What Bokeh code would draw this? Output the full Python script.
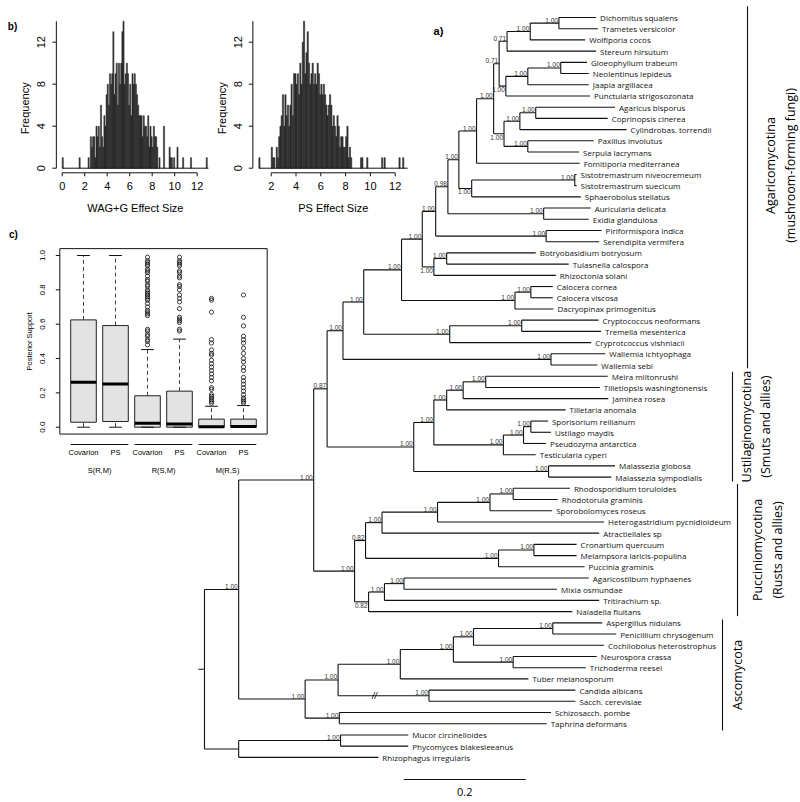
import math
from bokeh.plotting import figure
from bokeh.models import Range1d
from bokeh.core.properties import value
from bokeh.embed import file_html
from bokeh.resources import INLINE

# ======================= DATA =======================
# --- phylogeny (Newick pieces, branch lengths in substitutions/site, node labels = posterior support)
NWK_DTW = "((Dichomitus_squalens:0.061,Trametes_versicolor:0.064)1.00:0.047,Wolfiporia_cocos:0.090)1.00:0.038"
NWK_POLY = "(" + NWK_DTW + ",Stereum_hirsutum:0.146)0.71:0.013"
NWK_GLOEO = ("(((Gloeophyllum_trabeum:0.043,Neolentinus_lepideus:0.046)1.00:0.054,Jaapia_argillacea:0.100)1.00:0.036,"
             "Punctularia_strigosozonata:0.138)1.00:0.011")
NWK_AGARICALES = ("(((Agaricus_bisporus:0.130,Coprinopsis_cinerea:0.118)1.00:0.026,Cylindrobas._torrendii:0.175)1.00:0.026,"
                  "(Paxillus_involutus:0.108,Serpula_lacrymans:0.084)1.00:0.039)1.00:0.017")
NWK_CORE = "((" + NWK_POLY + "," + NWK_GLOEO + ")0.71:0.009," + NWK_AGARICALES + ")1.00:0.028"
NWK_HYMENO = "(" + NWK_CORE + ",Fomitiporia_mediterranea:0.169)1.00:0.029"
NWK_CANTH = ("((Sistotremastrum_niveocremeum:0.003,Sistotremastrum_suecicum:0.003)1.00:0.169,"
             "Sphaerobolus_stellatus:0.179)1.00:0.021")
NWK_K = "(" + NWK_HYMENO + "," + NWK_CANTH + ")1.00:0.018"
NWK_L = "(" + NWK_K + ",(Auricularia_delicata:0.077,Exidia_glandulosa:0.074)1.00:0.157)0.98:0.020"
NWK_M = "(" + NWK_L + ",(Piriformispora_indica:0.091,Serendipita_vermifera:0.087)1.00:0.181)1.00:0.022"
NWK_N = ("(" + NWK_M + ",((Botryobasidium_botryosum:0.146,Tulasnella_calospora:0.200)1.00:0.021,"
         "Rhizoctonia_solani:0.200)1.00:0.019)1.00:0.034")
NWK_O = ("(" + NWK_N + ",((Calocera_cornea:0.036,Calocera_viscosa:0.036)1.00:0.026,"
         "Dacryopinax_primogenitus:0.063)1.00:0.186)1.00:0.062")
NWK_P = ("(" + NWK_O + ",((Cryptococcus_neoformans:0.126,Tremella_mesenterica:0.130)1.00:0.118,"
         "Cryprotcoccus_vishniacii:0.232)1.00:0.141)1.00:0.034")
NWK_AGARICO = "(" + NWK_P + ",(Wallemia_ichtyophaga:0.089,Wallemia_sebi:0.076)1.00:0.341)1.00:0.026"
NWK_USTILAGO = ("(((((Meira_miltonrushi:0.200,Tilletiopsis_washingtonensis:0.187)1.00:0.037,Jaminea_rosea:0.238)1.00:0.027,"
                "Tilletaria_anomala:0.195)1.00:0.021,(((Sporisorium_reilianum:0.028,Ustilago_maydis:0.033)1.00:0.012,"
                "Pseudozyma_antarctica:0.037)1.00:0.033,Testicularia_cyperi:0.053)1.00:0.114)1.00:0.033,"
                "(Malassezia_globosa:0.109,Malassezia_sympodialis:0.103)1.00:0.221)1.00:0.142")
NWK_PUCCINIO = ("((((((Rhodosporidium_toruloides:0.093,Rhodotorula_graminis:0.073)1.00:0.038,Sporobolomyces_roseus:0.102)1.00:0.086,"
                "Heterogastridium_pycnidioideum:0.273)1.00:0.091,Atractiellales_sp:0.356)1.00:0.027,"
                "((Cronartium_quercuum:0.070,Melampsora_laricis-populina:0.070)1.00:0.058,Puccinia_graminis:0.141)1.00:0.218)0.82:0.018,"
                "(((Agaricostilbum_hyphaenes:0.303,Mixia_osmundae:0.251)1.00:0.032,Tritirachium_sp.:0.352)1.00:0.026,"
                "Naiadella_fluitans:0.334)0.82:0.023)1.00:0.067")
NWK_ASCO = ("((((((Aspergillus_nidulans:0.081,Penicillium_chrysogenum:0.104)1.00:0.130,Cochliobolus_heterostrophus:0.214)1.00:0.033,"
            "(Neurospora_crassa:0.137,Trichoderma_reesei:0.119)1.00:0.098)1.00:0.087,Tuber_melanosporum:0.210)1.00:0.102,"
            "(Candida_albicans:0.240,Sacch._cerevisiae:0.240)1.00:0.149)1.00:0.054,"
            "(Schizosacch._pombe:0.347,Taphrina_deformans:0.340)1.00:0.056)1.00:0.109")
NWK_OUTGROUP = ("((Mucor_circinelloides:0.111,Phycomyces_blakesleeanus:0.111)1.00:0.167,"
                "Rhizophagus_irregularis:0.229):0.056")
NWK_BASIDIO = "((" + NWK_AGARICO + "," + NWK_USTILAGO + ")0.87:0.022," + NWK_PUCCINIO + ")1.00:0.123"
NWK_DIKARYA = "(" + NWK_BASIDIO + "," + NWK_ASCO + ")1.00:0.056"
TREE_NEWICK = "(" + NWK_DIKARYA + "," + NWK_OUTGROUP + "):0.010;"

SCALE_BAR_LENGTH = 0.2
BROKEN_BRANCH_TIP = "Candida albicans"   # parent branch drawn with '//' break

clade_names = ["Agaricomycotina", "Ustilaginomycotina", "Pucciniomycotina", "Ascomycota"]
clade_notes = ["(mushroom-forming fungi)", "(Smuts and allies)", "(Rusts and allies)", ""]
clade_first = ["Dichomitus squalens", "Meira miltonrushi", "Rhodosporidium toruloides", "Aspergillus nidulans"]
clade_last = ["Wallemia sebi", "Malassezia sympodialis", "Naiadella fluitans", "Taphrina deformans"]

# --- histogram b) : bin counts, bins of width 0.1
wag_bin_start = 0.0
wag_bin_width = 0.1
wag_counts = [1, 0, 0, 0, 0, 0, 0, 0, 0, 0,
              0, 0, 0, 0, 0, 1, 0, 0, 0, 0,
              0, 0, 0, 1, 0, 3, 2, 3, 3, 1,
              4, 3, 4, 2, 6, 3, 2, 5, 4, 7,
              8, 6, 9, 8, 9, 13, 7, 9, 10, 6,
              10, 8, 10, 13, 14, 8, 9, 10, 9, 6,
              8, 5, 9, 8, 9, 8, 7, 6, 5, 5,
              5, 3, 5, 4, 4, 3, 5, 2, 4, 3,
              2, 4, 3, 3, 2, 0, 1, 0, 0, 0,
              4, 0, 0, 0, 0, 2, 1, 1, 0, 1,
              0, 0, 2, 0, 0, 0, 0, 1, 0, 0,
              0, 0, 0, 0, 1, 0, 0, 0, 0, 0,
              0, 0, 0, 0, 0, 0, 0, 0, 1, 0]
wag_x_ticks = [0, 2, 4, 6, 8, 10, 12]

ps_bin_start = 1.0
ps_bin_width = 0.1
ps_counts = [1, 0, 0, 0, 0, 0, 0, 0, 0, 0,
             2, 1, 1, 0, 2, 1, 3, 4, 5, 7,
             4, 7, 5, 6, 4, 6, 8, 5, 9, 9,
             8, 9, 7, 10, 8, 12, 14, 9, 11, 13,
             10, 8, 9, 10, 8, 9, 8, 10, 9, 7,
             8, 7, 8, 7, 6, 5, 6, 7, 6, 4,
             5, 4, 3, 5, 4, 2, 3, 3, 2, 2,
             3, 4, 1, 2, 1, 0, 0, 0, 0, 0,
             0, 0, 1, 1, 0, 0, 0, 1, 0, 0,
             0, 0, 0, 0, 0, 0, 0, 0, 0, 1,
             0, 1, 0, 0, 0, 0, 0, 0, 0, 0,
             0, 0, 0, 1, 0, 0, 1, 0, 0, 0]
ps_x_ticks = [2, 4, 6, 8, 10, 12]
hist_y_ticks = [0, 4, 8, 12]
hist_y_top = 14

# --- boxplot c)
box_models = ["Covarion", "PS", "Covarion", "PS", "Covarion", "PS"]
box_groups = ["S(R,M)", "R(S,M)", "M(R,S)"]
box_lower = [0.0, 0.0, 0.0, 0.0, 0.0, 0.0]
box_q1 = [0.029, 0.033, 0.0, 0.0, 0.0, 0.0]
box_median = [0.262, 0.252, 0.023, 0.019, 0.003, 0.004]
box_q3 = [0.625, 0.592, 0.183, 0.210, 0.047, 0.047]
box_upper = [1.0, 1.0, 0.452, 0.513, 0.122, 0.126]
box_outliers = [
    [],
    [],
    [0.99, 0.97, 0.96, 0.95, 0.94, 0.92, 0.91, 0.90, 0.88, 0.86, 0.85, 0.83, 0.82, 0.80, 0.79, 0.78,
     0.77, 0.76, 0.75, 0.74, 0.72, 0.70, 0.68, 0.67, 0.66, 0.65, 0.57, 0.56, 0.54, 0.53, 0.51, 0.50, 0.48],
    [0.99, 0.97, 0.96, 0.95, 0.94, 0.91, 0.90, 0.88, 0.87, 0.83, 0.82, 0.80, 0.77, 0.75, 0.73, 0.69,
     0.64, 0.63, 0.62, 0.61, 0.57, 0.56],
    [0.75, 0.74, 0.67, 0.51, 0.49, 0.45, 0.43, 0.42, 0.39, 0.37, 0.35, 0.33, 0.31, 0.29, 0.27, 0.23,
     0.22, 0.19, 0.18, 0.17, 0.16, 0.15, 0.14],
    [0.77, 0.64, 0.59, 0.53, 0.51, 0.49, 0.46, 0.43, 0.40, 0.38, 0.35, 0.33, 0.29, 0.27, 0.25, 0.23,
     0.21, 0.19, 0.17, 0.16, 0.15, 0.14],
]
box_y_ticks = [0.0, 0.2, 0.4, 0.6, 0.8, 1.0]

# ======================= LAYOUT =======================
W, H = 800, 800
FL, FT = 0, 0          # frame origin in page pixels

TREE_X0, TREE_PPU = 204.0, 610.0
TREE_Y0, TREE_PPU_Y = 17.0, 11.21
WAG_X0, WAG_PPU = 61.7, 11.25
PS_X0, PS_PPU = 245.9, 12.4
HIST_Y0, HIST_PPU = 167.7, 10.5
BOX_X0, BOX_PPU = 51.0, 32.0
BOX_Y0, BOX_PPU_Y = 426.7, 171.7


def xr(origin, ppu):
    return Range1d(start=(FL - origin) / ppu, end=(FL + W - origin) / ppu)


def yr_up(origin, ppu):
    return Range1d(start=(origin - (FT + H)) / ppu, end=(origin - FT) / ppu)


def yr_down(origin, ppu):
    return Range1d(start=(FT + H - origin) / ppu, end=(FT - origin) / ppu)


def tx(px):  # page px -> tree depth
    return (px - TREE_X0) / TREE_PPU


def ty(py):  # page px -> leaf index
    return (py - TREE_Y0) / TREE_PPU_Y


p = figure(width=W, height=H, output_backend="svg", toolbar_location=None,
           x_range=xr(TREE_X0, TREE_PPU), y_range=yr_down(TREE_Y0, TREE_PPU_Y),
           x_axis_type=None, y_axis_type=None, min_border=0)
p.outline_line_color = None
p.background_fill_color = "white"
p.border_fill_color = "white"
p.extra_x_ranges = {"wag": xr(WAG_X0, WAG_PPU), "ps": xr(PS_X0, PS_PPU), "box": xr(BOX_X0, BOX_PPU)}
p.extra_y_ranges = {"hist": yr_up(HIST_Y0, HIST_PPU), "box": yr_up(BOX_Y0, BOX_PPU_Y)}

AX_FONT = value("Liberation Sans")


def txt(x, y, s, xrn="default", yrn="default", size="11px", font="Liberation Sans", align="center",
        baseline="middle", angle=0.0, xo=0, yo=0, color="#000000", style="normal"):
    p.text(x=[x], y=[y], text=[s], x_range_name=xrn, y_range_name=yrn, text_font=value(font),
           text_font_size=size, text_align=align, text_baseline=baseline, angle=angle,
           x_offset=xo, y_offset=yo, text_color=color, text_font_style=style)


# ======================= TREE =======================
def parse_newick(s):
    s = s.strip()
    pos = [0]

    def node():
        n = {"children": [], "name": "", "length": 0.0}
        if s[pos[0]] == "(":
            pos[0] += 1
            while True:
                n["children"].append(node())
                c = s[pos[0]]
                pos[0] += 1
                if c == ")":
                    break
        st = pos[0]
        while pos[0] < len(s) and s[pos[0]] not in ":,();":
            pos[0] += 1
        n["name"] = s[st:pos[0]].replace("_", " ")
        if pos[0] < len(s) and s[pos[0]] == ":":
            pos[0] += 1
            st = pos[0]
            while pos[0] < len(s) and s[pos[0]] not in ",();":
                pos[0] += 1
            n["length"] = float(s[st:pos[0]])
        return n

    return node()


root = parse_newick(TREE_NEWICK)
leaf_counter = [0]


def layout(n, x):
    n["x"] = x
    if not n["children"]:
        n["y"] = leaf_counter[0]
        leaf_counter[0] += 1
    else:
        for c in n["children"]:
            layout(c, x + c["length"])
        n["y"] = (n["children"][0]["y"] + n["children"][-1]["y"]) / 2.0
    return n


layout(root, 0.0)

seg_x0, seg_y0, seg_x1, seg_y1 = [], [], [], []
leaf_x, leaf_y, leaf_name = [], [], []
lab_up = {"x": [], "y": [], "t": []}
lab_dn = {"x": [], "y": [], "t": []}
leaf_index = {}
break_pos = []


def first_leaf(n):
    return n if not n["children"] else first_leaf(n["children"][0])


def last_leaf(n):
    return n if not n["children"] else last_leaf(n["children"][-1])


BELOW = {("Agaricus bisporus", "Serpula lacrymans"), ("Gloeophyllum trabeum", "Punctularia strigosozonata"),
         ("Sistotremastrum niveocremeum", "Sphaerobolus stellatus"), ("Botryobasidium botryosum", "Rhizoctonia solani"),
         ("Agaricostilbum hyphaenes", "Naiadella fluitans")}


def collect(n):
    if not n["children"]:
        leaf_x.append(n["x"]); leaf_y.append(n["y"]); leaf_name.append(n["name"])
        leaf_index[n["name"]] = n["y"]
        return
    ys = [c["y"] for c in n["children"]]
    seg_x0.append(n["x"]); seg_y0.append(min(ys)); seg_x1.append(n["x"]); seg_y1.append(max(ys))
    for c in n["children"]:
        seg_x0.append(n["x"]); seg_y0.append(c["y"]); seg_x1.append(c["x"]); seg_y1.append(c["y"])
        if c["children"] and first_leaf(c)["name"] == BROKEN_BRANCH_TIP:
            break_pos.append((n["x"], c["x"], c["y"]))
        collect(c)
    if n["name"]:
        key = (first_leaf(n)["name"], last_leaf(n)["name"])
        d = lab_dn if key in BELOW else lab_up
        d["x"].append(n["x"]); d["y"].append(n["y"]); d["t"].append(n["name"])


collect(root)
# root edge
seg_x0.append(-root["length"]); seg_y0.append(root["y"]); seg_x1.append(0.0); seg_y1.append(root["y"])

p.segment(x0=seg_x0, y0=seg_y0, x1=seg_x1, y1=seg_y1, line_color="#111111", line_width=1.1)
p.text(x=leaf_x, y=leaf_y, text=leaf_name, x_offset=4, text_font=value("Open Sans"), text_font_size="8px",
       text_align="left", text_baseline="middle", text_color="#111111")
p.text(x=lab_up["x"], y=lab_up["y"], text=lab_up["t"], x_offset=-1, y_offset=-0.5, text_font=AX_FONT,
       text_font_size="6.5px", text_align="right", text_baseline="bottom", text_color="#333333")
p.text(x=lab_dn["x"], y=lab_dn["y"], text=lab_dn["t"], x_offset=-1, y_offset=1, text_font=AX_FONT,
       text_font_size="6.5px", text_align="right", text_baseline="top", text_color="#333333")

for (xa, xb, yb) in break_pos:
    txt(xa + (xb - xa) * 0.4, yb, "//", size="9px", style="italic")

# scale bar
sb_x = tx(403.3)
sb_y = ty(779)
p.segment(x0=[sb_x], y0=[sb_y], x1=[sb_x + SCALE_BAR_LENGTH], y1=[sb_y], line_color="#111111", line_width=1.1)
txt(sb_x + SCALE_BAR_LENGTH / 2, sb_y, str(SCALE_BAR_LENGTH), size="11px", font="Open Sans", yo=12)

# clade bars
clade_line_px = [747, 732, 737, 722]
clade_text_px = [770, 746, 757, 737]
clade_note_px = [790, 765, 777, 0]
clade_pad_top = [1.0, 0.4, 0.4, 0.3]
clade_pad_bot = [0.3, 0.4, 0.4, 0.6]
for i in range(len(clade_names)):
    y0 = leaf_index[clade_first[i]] - clade_pad_top[i]
    y1 = leaf_index[clade_last[i]] + clade_pad_bot[i]
    p.segment(x0=[tx(clade_line_px[i])], y0=[y0], x1=[tx(clade_line_px[i])], y1=[y1], line_color="#111111", line_width=1.1)
    yc = (y0 + y1) / 2 if i > 0 else ty(165)
    txt(tx(clade_text_px[i]), yc, clade_names[i], size="12.5px", font="Open Sans", angle=math.pi / 2)
    if clade_notes[i]:
        txt(tx(clade_note_px[i]), yc, clade_notes[i], size="12.5px", font="Open Sans", angle=math.pi / 2)

txt(tx(438), ty(30), "a)", size="11px", style="bold")


# ======================= HISTOGRAMS =======================
def draw_hist(xrn, ppu, start, width, counts, xticks, title):
    n = len(counts)
    lefts = [start + i * width for i in range(n) if counts[i] > 0]
    tops = [c for c in counts if c > 0]
    rights = [l + width for l in lefts]
    end = start + n * width
    p.segment(x0=[start], y0=[0], x1=[end], y1=[0], x_range_name=xrn, y_range_name="hist",
              line_color="#111111", line_width=1)
    p.quad(left=lefts, right=rights, bottom=0, top=tops, x_range_name=xrn, y_range_name="hist",
           fill_color="#3a3a3a", line_color="#1a1a1a", line_width=0.5)
    # x axis
    ya = -4.6 / HIST_PPU
    tl = 3.5 / HIST_PPU
    p.segment(x0=[xticks[0]], y0=[ya], x1=[xticks[-1]], y1=[ya], x_range_name=xrn, y_range_name="hist",
              line_color="#111111", line_width=1)
    p.segment(x0=xticks, y0=[ya] * len(xticks), x1=xticks, y1=[ya - tl] * len(xticks), x_range_name=xrn,
              y_range_name="hist", line_color="#111111", line_width=1)
    p.text(x=xticks, y=[0] * len(xticks), text=[str(t) for t in xticks], y_offset=17.5, x_range_name=xrn,
           y_range_name="hist", text_font=AX_FONT, text_font_size="11px", text_align="center",
           text_baseline="middle")
    txt((start + end) / 2, 0, title, xrn=xrn, yrn="hist", size="11px", yo=39.5)
    # y axis
    xa = start - 0.04 * (end - start)
    p.segment(x0=[xa], y0=[0], x1=[xa], y1=[hist_y_top], x_range_name=xrn, y_range_name="hist",
              line_color="#111111", line_width=1)
    p.segment(x0=[xa] * len(hist_y_ticks), y0=hist_y_ticks, x1=[xa - 4 / ppu] * len(hist_y_ticks), y1=hist_y_ticks,
              x_range_name=xrn, y_range_name="hist", line_color="#111111", line_width=1)
    p.text(x=[xa] * len(hist_y_ticks), y=hist_y_ticks, text=[str(t) for t in hist_y_ticks], x_offset=-15,
           angle=math.pi / 2, x_range_name=xrn, y_range_name="hist", text_font=AX_FONT, text_font_size="11px",
           text_align="center", text_baseline="middle")
    txt(xa, 5.7, "Frequency", xrn=xrn, yrn="hist", size="11px", angle=math.pi / 2, xo=-31)


draw_hist("wag", WAG_PPU, wag_bin_start, wag_bin_width, wag_counts, wag_x_ticks, "WAG+G Effect Size")
draw_hist("ps", PS_PPU, ps_bin_start, ps_bin_width, ps_counts, ps_x_ticks, "PS Effect Size")
txt((12 - WAG_X0) / WAG_PPU, (HIST_Y0 - 26) / HIST_PPU, "b)", xrn="wag", yrn="hist", size="10px", style="bold")

# ======================= BOXPLOT =======================
pos = list(range(1, len(box_models) + 1))
nb = len(pos)
p.quad(left=[0.26], right=[nb + 0.74], bottom=[-0.04], top=[1.04], x_range_name="box", y_range_name="box",
       fill_color=None, line_color="#111111", line_width=1)
p.segment(x0=pos, y0=box_q3, x1=pos, y1=box_upper, x_range_name="box", y_range_name="box",
          line_color="#444444", line_width=1, line_dash="4 3")
p.segment(x0=pos, y0=box_lower, x1=pos, y1=box_q1, x_range_name="box", y_range_name="box",
          line_color="#444444", line_width=1, line_dash="4 3")
p.quad(left=[q - 0.4 for q in pos], right=[q + 0.4 for q in pos], bottom=box_q1, top=box_q3,
       x_range_name="box", y_range_name="box", fill_color="#e3e3e3", line_color="#222222", line_width=1)
for arr in (box_upper, box_lower):
    p.segment(x0=[q - 0.2 for q in pos], y0=arr, x1=[q + 0.2 for q in pos], y1=arr, x_range_name="box",
              y_range_name="box", line_color="#111111", line_width=1)
p.segment(x0=[q - 0.4 for q in pos], y0=box_median, x1=[q + 0.4 for q in pos], y1=box_median,
          x_range_name="box", y_range_name="box", line_color="#000000", line_width=3)
ox, oy = [], []
for q, outs in zip(pos, box_outliers):
    ox += [q] * len(outs)
    oy += outs
p.scatter(x=ox, y=oy, marker="circle", size=4.2, fill_color=None, line_color="#111111", line_width=0.8,
          x_range_name="box", y_range_name="box")
# y axis of boxplot
p.segment(x0=[0.26] * len(box_y_ticks), y0=box_y_ticks, x1=[0.26 - 4 / BOX_PPU] * len(box_y_ticks), y1=box_y_ticks,
          x_range_name="box", y_range_name="box", line_color="#111111", line_width=1)
p.text(x=[0.26] * len(box_y_ticks), y=box_y_ticks, text=["%.1f" % t for t in box_y_ticks], x_offset=-17.5,
       angle=math.pi / 2, x_range_name="box", y_range_name="box", text_font=AX_FONT, text_font_size="8px",
       text_align="center", text_baseline="middle")
txt(0.26, 0.5, "Posterior Support", xrn="box", yrn="box", size="7.5px", angle=math.pi / 2, xo=-30)
# group annotations below
yg = -17.3 / BOX_PPU_Y
p.text(x=pos, y=[yg] * nb, text=box_models, y_offset=8, x_range_name="box", y_range_name="box",
       text_font=AX_FONT, text_font_size="7.5px", text_align="center", text_baseline="middle")
for g in range(len(box_groups)):
    a, b = pos[2 * g], pos[2 * g + 1]
    p.segment(x0=[a - 0.4], y0=[yg], x1=[b + 0.4], y1=[yg], x_range_name="box", y_range_name="box",
              line_color="#111111", line_width=1)
    txt((a + b) / 2, yg, box_groups[g], xrn="box", yrn="box", size="7.5px", yo=26)
txt(1 + (13 - 83) / BOX_PPU, (BOX_Y0 - 234) / BOX_PPU_Y, "c)", xrn="box", yrn="box", size="10px", style="bold")

open("out.html", "w").write(file_html(p, INLINE))
